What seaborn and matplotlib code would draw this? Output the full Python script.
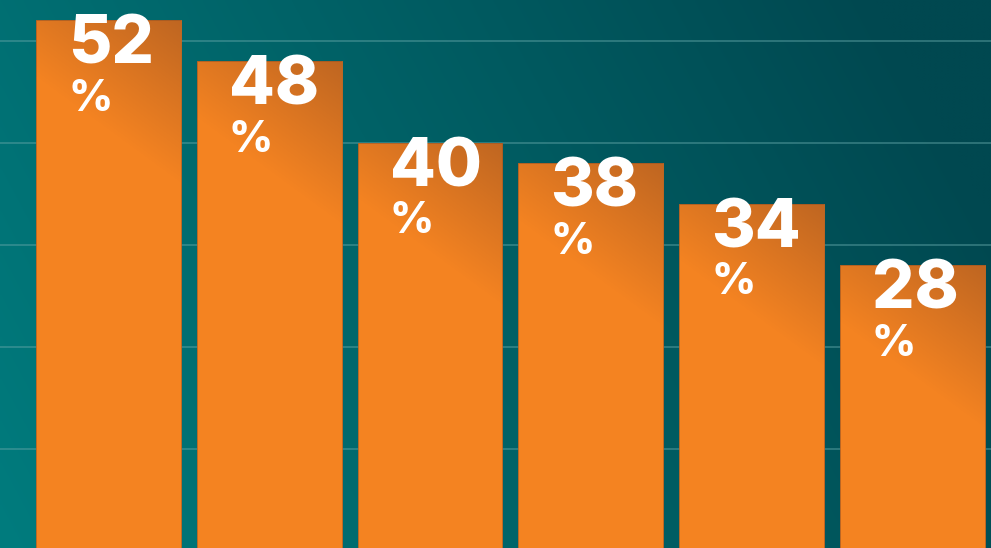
import matplotlib
matplotlib.use("Agg")
import matplotlib.pyplot as plt
import numpy as np
import pandas as pd
import seaborn as sns

# values
groups = ["A", "B", "C", "D", "E", "F"]
shares = [52, 48, 40, 38, 34, 28]
labels = ["52", "48", "40", "38", "34", "28"]

df = pd.DataFrame({"group": groups, "share": shares})

sns.set_style("white")
plt.rcParams["font.family"] = ["Inter", "DejaVu Sans"]

fig = plt.figure(figsize=(9.91, 5.48), dpi=100)

# teal gradient background
bg = fig.add_axes([0, 0, 1, 1], zorder=-2)
xx, yy = np.meshgrid(np.linspace(0, 1, 400), np.linspace(0, 1, 220))
t = np.clip(0.85 * xx + 0.25 * (1 - yy), 0, 1)
c0 = np.array([0, 124, 126]) / 255
c1 = np.array([0, 72, 80]) / 255
img = c0[None, None, :] * (1 - t[..., None]) + c1[None, None, :] * t[..., None]
bg.imshow(img, aspect="auto", extent=(0, 1, 0, 1), interpolation="bilinear")
bg.set_axis_off()

ax = fig.add_axes([0, 0, 1, 1])
ax.set_facecolor("none")

sns.barplot(data=df, x="group", y="share", color="#f48321", saturation=1,
            width=0.9, ax=ax, zorder=3, edgecolor="#c8661f", linewidth=0.6)

ax.set_xlim(-0.675, 5.49)
ax.set_ylim(0.3, 54)
ax.set_yticks([10, 20, 30, 40, 50])
ax.grid(axis="y", color="#5fa3a5", alpha=0.55, linewidth=1.2, zorder=0)
ax.set_axisbelow(True)
ax.tick_params(length=0, labelleft=False, labelbottom=False)
ax.set_xlabel("")
ax.set_ylabel("")
for s in ax.spines.values():
    s.set_visible(False)

# darker shading at top-right of each bar, fading to nothing
gx, gy = np.meshgrid(np.linspace(0, 1, 80), np.linspace(1, 0, 80))
alpha = np.clip((0.65 * gx + 1.0 * gy - 0.65) / 1.0, 0, 1) * 0.62
shade = np.zeros((80, 80, 4))
shade[..., 0] = 0.62
shade[..., 1] = 0.33
shade[..., 2] = 0.13
shade[..., 3] = alpha
for p in ax.patches:
    x0 = p.get_x()
    x1 = x0 + p.get_width()
    top = p.get_height()
    im = ax.imshow(shade, extent=(x0, x1, top - 16, top), aspect="auto",
                   interpolation="bilinear", zorder=4)
    im.set_clip_path(p)

ax.set_xlim(-0.675, 5.49)
ax.set_ylim(0.3, 54)

for p, lab in zip(ax.patches, labels):
    x0 = p.get_x()
    top = p.get_height()
    ax.annotate(lab, (x0, top), xytext=(23, 4), textcoords="offset points",
                ha="left", va="top", color="white", fontsize=48,
                fontweight=800, zorder=6)
    ax.annotate("%", (x0, top), xytext=(23, -42), textcoords="offset points",
                ha="left", va="top", color="white", fontsize=31,
                fontweight=800, zorder=6)

fig.savefig("out.png", dpi=100)
